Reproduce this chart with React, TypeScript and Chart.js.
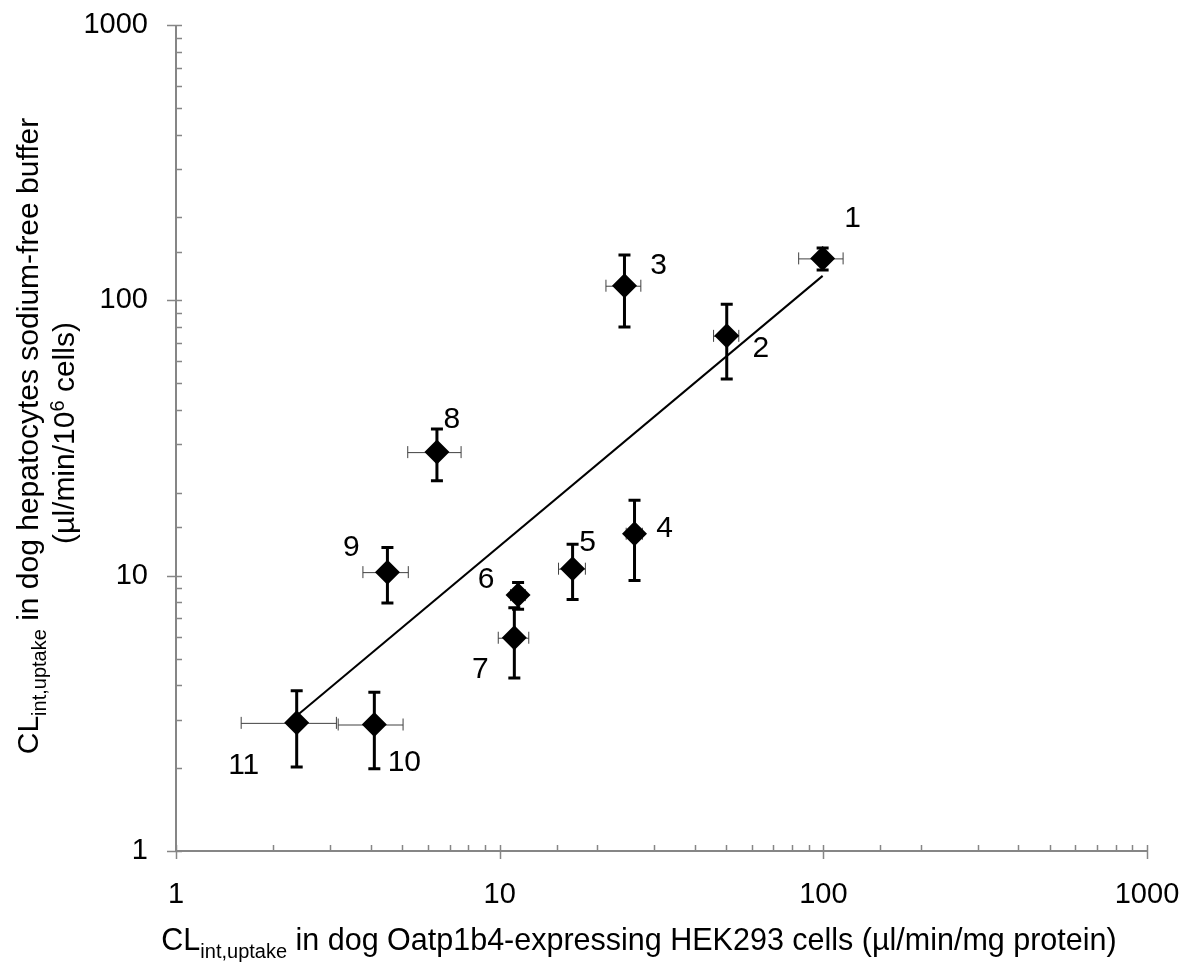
import React, { useEffect, useRef } from 'react';
import { Chart, registerables } from 'chart.js';

Chart.register(...registerables);

// ---- Data ----
const compoundLabels = ['1', '2', '3', '4', '5', '6', '7', '8', '9', '10', '11'];
const oatpClearance = [99.5, 50.3, 24.3, 26.1, 16.8, 11.4, 11.1, 6.4, 4.5, 4.1, 2.36];
const oatpClearanceSD = [15.6, 4.5, 3.0, 1.5, 1.6, 0.6, 1.2, 1.2, 0.72, 0.93, 0.77];
const hepatocyteClearance = [142, 74.3, 113, 14.2, 10.6, 8.5, 5.95, 28.1, 10.3, 2.88, 2.92];
const hepatocyteClearanceSD = [13, 22.5, 33, 4.6, 2.4, 0.95, 1.7, 6.0, 2.35, 0.89, 0.9];
const trendLineX = [2.36, 99.5];
const trendLineY = [3.1, 122.7];
const axisTickLabels = ['1', '10', '100', '1000'];

// ---- Layout / style (not data) ----
const FONT = '"Liberation Sans", Arial, Helvetica, sans-serif';
const AXIS_COLOR = '#868686';
const LABEL_OFFSETS: [number, number][] = [
  [30, -40], [34, 13], [34, -20], [30, -5], [15, -26], [-32, -15],
  [-34, 32], [15, -32], [-36, -24], [30, 38], [-53, 43],
];

type Part = { t: string; size: number; dy: number };

function drawRich(ctx: CanvasRenderingContext2D, parts: Part[], cx: number, baseline: number) {
  let total = 0;
  const widths: number[] = [];
  for (const p of parts) {
    ctx.font = `${p.size}px ${FONT}`;
    const w = ctx.measureText(p.t).width;
    widths.push(w);
    total += w;
  }
  let x = cx - total / 2;
  ctx.textAlign = 'left';
  ctx.textBaseline = 'alphabetic';
  parts.forEach((p, i) => {
    ctx.font = `${p.size}px ${FONT}`;
    ctx.fillText(p.t, x, baseline + p.dy);
    x += widths[i];
  });
}

const isDecade = (v: number) => Math.abs(Math.log10(v) - Math.round(Math.log10(v))) < 1e-9;

const axisPlugin = {
  id: 'axisPlugin',
  afterDraw(chart: any) {
    const { ctx, chartArea, scales } = chart;
    const xs = scales.x;
    const ys = scales.y;
    ctx.save();
    ctx.strokeStyle = AXIS_COLOR;
    ctx.lineWidth = 2;
    ctx.beginPath();
    ctx.moveTo(chartArea.left, chartArea.top);
    ctx.lineTo(chartArea.left, chartArea.bottom);
    ctx.moveTo(chartArea.left, chartArea.bottom);
    ctx.lineTo(chartArea.right, chartArea.bottom);
    ctx.stroke();
    ctx.lineWidth = 1.5;
    ctx.beginPath();
    for (const t of xs.ticks) {
      const px = Math.round(xs.getPixelForValue(t.value)) + 0.5;
      if (isDecade(t.value)) {
        ctx.moveTo(px, chartArea.bottom - 6);
        ctx.lineTo(px, chartArea.bottom + 8);
      } else {
        ctx.moveTo(px, chartArea.bottom - 6);
        ctx.lineTo(px, chartArea.bottom);
      }
    }
    for (const t of ys.ticks) {
      const py = Math.round(ys.getPixelForValue(t.value)) + 0.5;
      if (isDecade(t.value)) {
        ctx.moveTo(chartArea.left - 9, py);
        ctx.lineTo(chartArea.left + 6, py);
      } else {
        ctx.moveTo(chartArea.left, py);
        ctx.lineTo(chartArea.left + 6, py);
      }
    }
    ctx.stroke();
    ctx.restore();
  },
};

const errorBarPlugin = {
  id: 'errorBarPlugin',
  beforeDatasetsDraw(chart: any) {
    const { ctx, scales } = chart;
    const xs = scales.x;
    const ys = scales.y;
    ctx.save();
    oatpClearance.forEach((xv, i) => {
      const yv = hepatocyteClearance[i];
      const px = xs.getPixelForValue(xv);
      const py = ys.getPixelForValue(yv);
      // horizontal (thin, gray)
      const xl = xs.getPixelForValue(xv - oatpClearanceSD[i]);
      const xr = xs.getPixelForValue(xv + oatpClearanceSD[i]);
      ctx.strokeStyle = '#404040';
      ctx.lineWidth = 1;
      ctx.beginPath();
      ctx.moveTo(xl, py + 0.5);
      ctx.lineTo(xr, py + 0.5);
      ctx.moveTo(xl, py - 6);
      ctx.lineTo(xl, py + 6);
      ctx.moveTo(xr, py - 6);
      ctx.lineTo(xr, py + 6);
      ctx.stroke();
      // vertical (thick, black)
      const yt = ys.getPixelForValue(yv + hepatocyteClearanceSD[i]);
      const yb = ys.getPixelForValue(yv - hepatocyteClearanceSD[i]);
      ctx.strokeStyle = '#000';
      ctx.lineWidth = 3;
      ctx.beginPath();
      ctx.moveTo(px, yt);
      ctx.lineTo(px, yb);
      ctx.moveTo(px - 6, yt);
      ctx.lineTo(px + 6, yt);
      ctx.moveTo(px - 6, yb);
      ctx.lineTo(px + 6, yb);
      ctx.stroke();
    });
    ctx.restore();
  },
};

const pointLabelPlugin = {
  id: 'pointLabelPlugin',
  afterDatasetsDraw(chart: any) {
    const { ctx, scales } = chart;
    ctx.save();
    ctx.fillStyle = '#000';
    ctx.font = `30px ${FONT}`;
    ctx.textAlign = 'center';
    ctx.textBaseline = 'middle';
    compoundLabels.forEach((lab, i) => {
      const px = scales.x.getPixelForValue(oatpClearance[i]);
      const py = scales.y.getPixelForValue(hepatocyteClearance[i]);
      const [dx, dy] = LABEL_OFFSETS[i];
      ctx.fillText(lab, px + dx, py + dy);
    });
    ctx.restore();
  },
};

const titlePlugin = {
  id: 'titlePlugin',
  afterDraw(chart: any) {
    const { ctx } = chart;
    ctx.save();
    ctx.fillStyle = '#000';
    drawRich(
      ctx,
      [
        { t: 'CL', size: 30.5, dy: 0 },
        { t: 'int,uptake', size: 20, dy: 8 },
        { t: ' in dog Oatp1b4-expressing HEK293 cells (\u00b5l/min/mg protein)', size: 30.5, dy: 0 },
      ],
      639,
      950
    );
    ctx.restore();

    ctx.save();
    ctx.fillStyle = '#000';
    ctx.translate(38, 436);
    ctx.rotate(-Math.PI / 2);
    drawRich(
      ctx,
      [
        { t: 'CL', size: 30, dy: 0 },
        { t: 'int,uptake', size: 20, dy: 8 },
        { t: ' in dog hepatocytes sodium-free buffer', size: 30, dy: 0 },
      ],
      0,
      0
    );
    ctx.restore();

    ctx.save();
    ctx.fillStyle = '#000';
    ctx.translate(74, 433);
    ctx.rotate(-Math.PI / 2);
    drawRich(
      ctx,
      [
        { t: '(\u00b5l/min/10', size: 30, dy: 0 },
        { t: '6', size: 20, dy: -10 },
        { t: ' cells)', size: 30, dy: 0 },
      ],
      0,
      0
    );
    ctx.restore();
  },
};

const zeroPadding = (s: any) => {
  s.paddingTop = 0;
  s.paddingBottom = 0;
  s.paddingLeft = 0;
  s.paddingRight = 0;
};

export default function App() {
  const canvasRef = useRef<HTMLCanvasElement | null>(null);

  useEffect(() => {
    document.body.style.margin = '0';
    const canvas = canvasRef.current;
    if (!canvas) return;

    const tickCallback = (v: any) => {
      const n = Number(v);
      const s = String(Math.round(n));
      return isDecade(n) && axisTickLabels.includes(s) ? s : '';
    };

    const chart = new Chart(canvas, {
      type: 'scatter',
      data: {
        datasets: [
          {
            label: 'trend',
            data: trendLineX.map((x, i) => ({ x, y: trendLineY[i] })),
            showLine: true,
            borderColor: '#000',
            borderWidth: 2,
            pointRadius: 0,
            fill: false,
          } as any,
          {
            label: 'compounds',
            data: oatpClearance.map((x, i) => ({ x, y: hepatocyteClearance[i] })),
            pointStyle: 'rectRot',
            pointRadius: 12.5,
            backgroundColor: '#000',
            borderColor: '#000',
            borderWidth: 0,
          } as any,
        ],
      },
      options: {
        responsive: false,
        animation: false,
        layout: { padding: { left: 0, right: 39, top: 25, bottom: 0 } },
        plugins: { legend: { display: false }, tooltip: { enabled: false } },
        scales: {
          x: {
            type: 'logarithmic',
            min: 1,
            max: 1000,
            grid: { display: false, drawTicks: false },
            border: { display: false },
            ticks: {
              autoSkip: false,
              maxRotation: 0,
              padding: 27,
              color: '#000',
              font: { family: FONT, size: 29 },
              callback: tickCallback,
            },
            afterFit: (s: any) => {
              s.height = 123;
              zeroPadding(s);
            },
          },
          y: {
            type: 'logarithmic',
            min: 1,
            max: 1000,
            grid: { display: false, drawTicks: false },
            border: { display: false },
            ticks: {
              autoSkip: false,
              padding: 28,
              color: '#000',
              font: { family: FONT, size: 29 },
              callback: tickCallback,
            },
            afterFit: (s: any) => {
              s.width = 176;
              zeroPadding(s);
            },
          },
        },
      } as any,
      plugins: [errorBarPlugin, axisPlugin, pointLabelPlugin, titlePlugin],
    });

    return () => {
      chart.destroy();
    };
  }, []);

  return (
    <div style={{ width: 1186, height: 974, background: '#fff' }}>
      <canvas ref={canvasRef} width={1186} height={974} style={{ display: 'block' }} />
    </div>
  );
}
